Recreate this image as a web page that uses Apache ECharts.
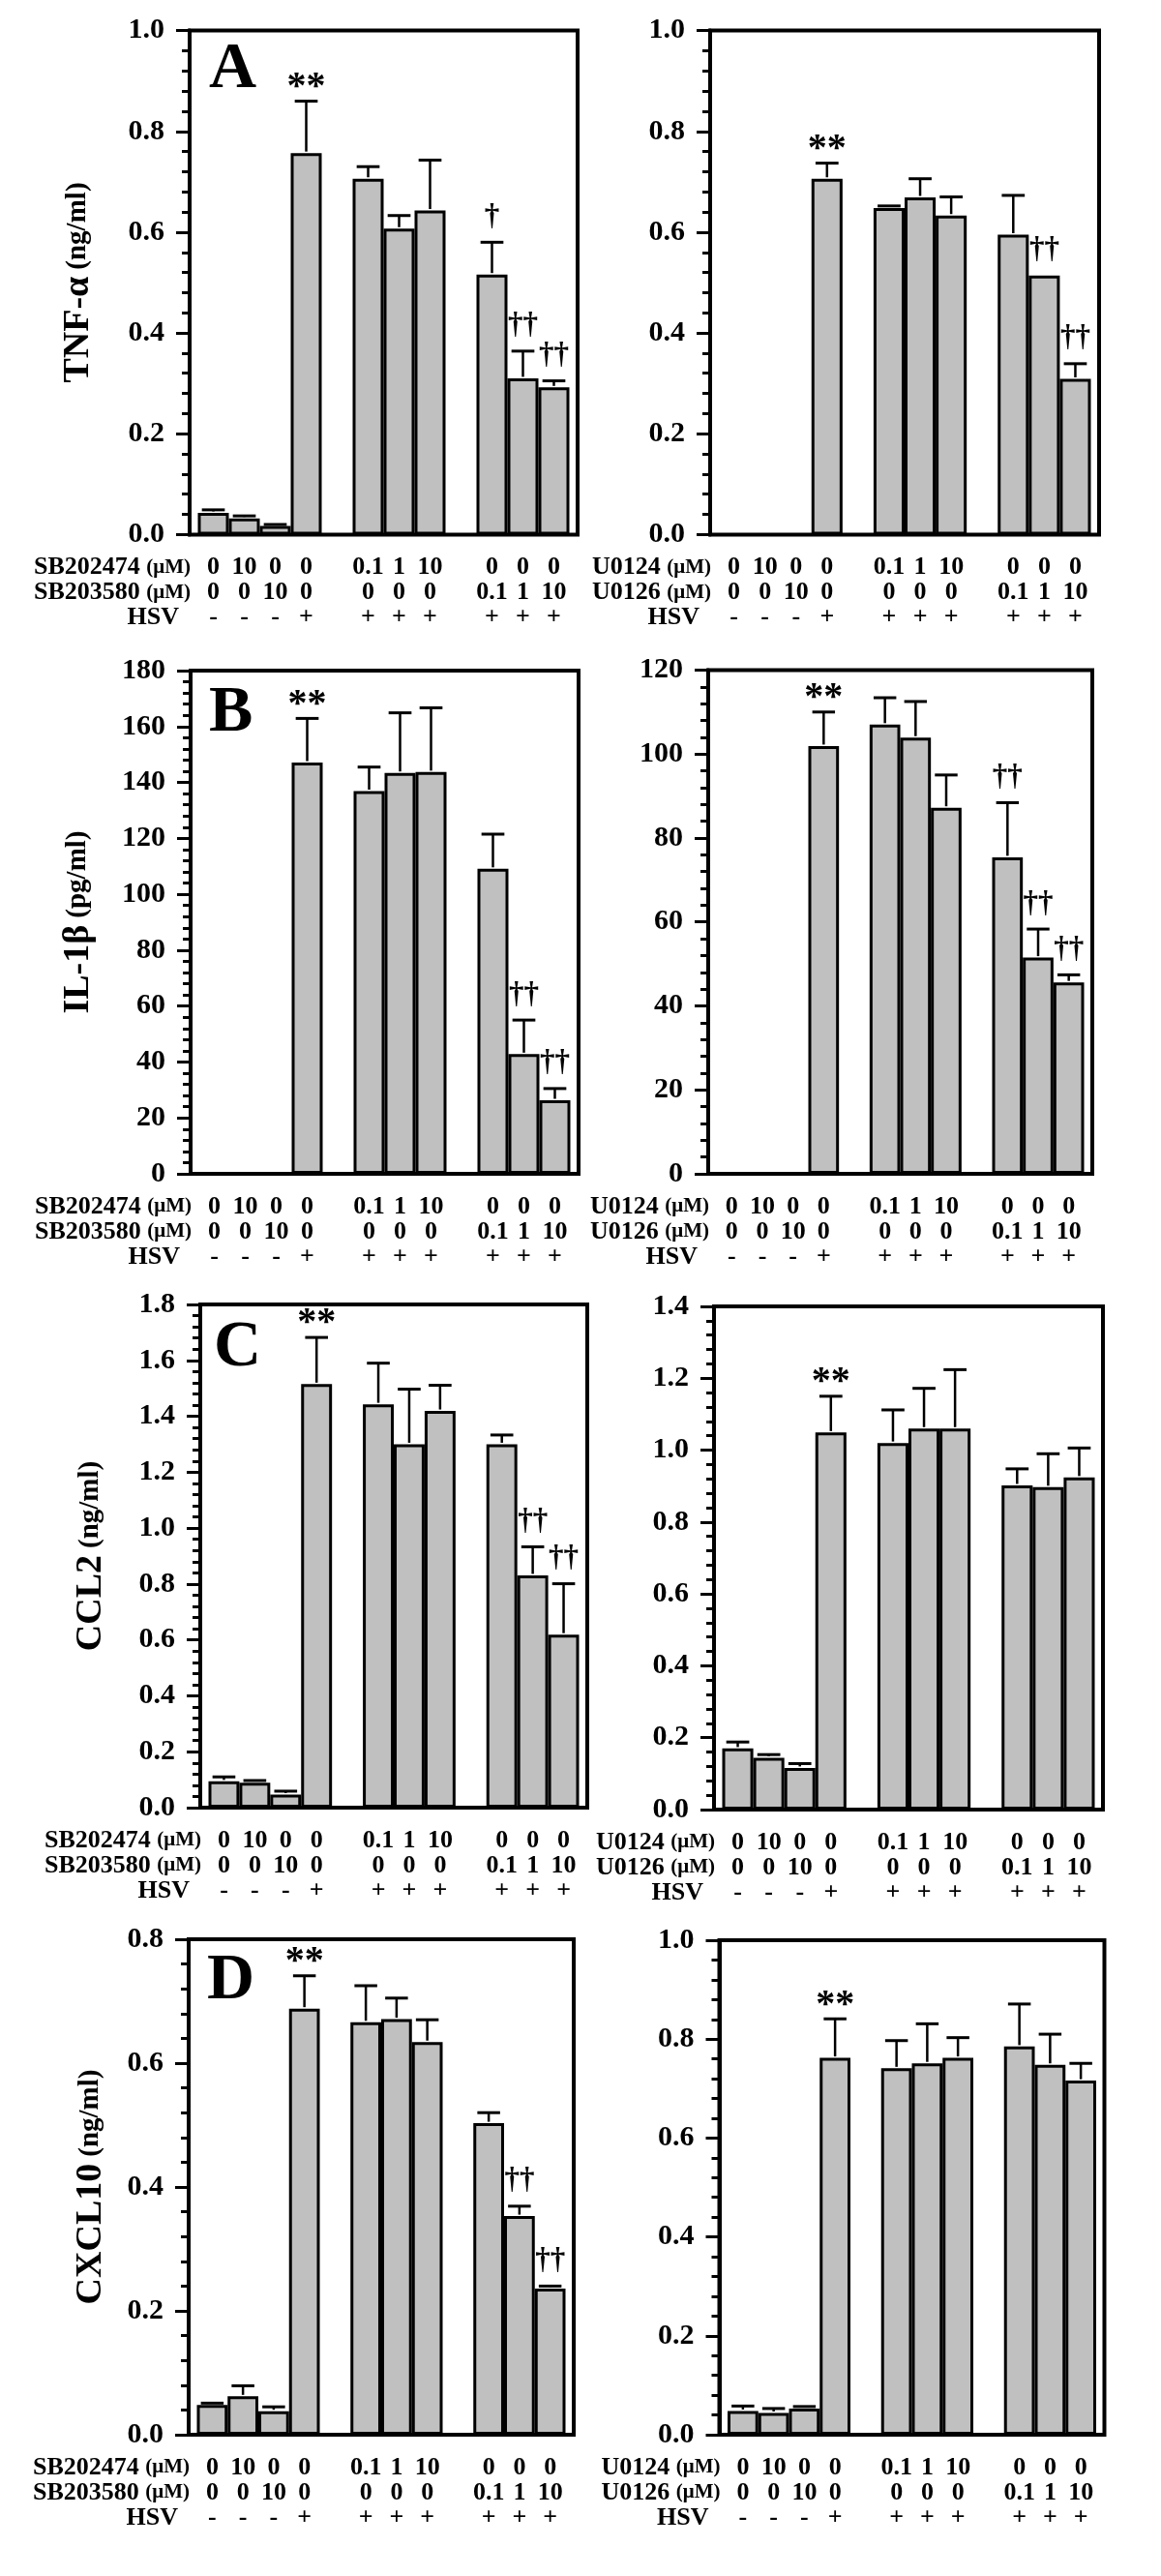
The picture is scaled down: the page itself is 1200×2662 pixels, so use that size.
<!DOCTYPE html>
<html><head><meta charset="utf-8">
<script src="https://cdn.jsdelivr.net/npm/echarts@6/dist/echarts.min.js"></script>
<style>html,body{margin:0;padding:0;background:#fff}#c{width:1200px;height:2662px}</style>
</head><body><div id="c"></div>
<script>
// ---------- categories / table rows ----------
const slots = ['s1','s2','s3','s4','g1','s5','s6','s7','g2','s8','s9','s10'];
const barSlots = [0,1,2,3,5,6,7,9,10,11];
const rowSB202474 = ['0','10','0','0','','0.1','1','10','','0','0','0'];
const rowSB203580 = ['0','0','10','0','','0','0','0','','0.1','1','10'];
const rowU0124    = ['0','10','0','0','','0.1','1','10','','0','0','0'];
const rowU0126    = ['0','0','10','0','','0','0','0','','0.1','1','10'];
const rowHSV      = ['-','-','-','+','','+','+','+','','+','+','+'];

// ---------- tick labels ----------
const ticks10 = ['0.0','0.2','0.4','0.6','0.8','1.0'];
const ticks180 = ['0','20','40','60','80','100','120','140','160','180'];
const ticks120 = ['0','20','40','60','80','100','120'];
const ticks18 = ['0.0','0.2','0.4','0.6','0.8','1.0','1.2','1.4','1.6','1.8'];
const ticks14 = ['0.0','0.2','0.4','0.6','0.8','1.0','1.2','1.4'];
const ticks08 = ['0.0','0.2','0.4','0.6','0.8'];

// ---------- values (mean, SD, significance) ----------
const tnfSB     = [0.043,0.032,0.017,0.757,0.706,0.607,0.643,0.516,0.310,0.292];
const tnfSBsd   = [0.006,0.005,0.003,0.103,0.024,0.026,0.100,0.064,0.054,0.013];
const tnfSBsig  = ['','','','**','','','','\u2020','\u2020\u2020','\u2020\u2020'];
const tnfU      = [null,null,null,0.706,0.648,0.669,0.633,0.595,0.514,0.309];
const tnfUsd    = [null,null,null,0.031,0.004,0.037,0.037,0.078,0,0.030];
const tnfUsig   = ['','','','**','','','','','\u2020\u2020','\u2020\u2020'];

const il1SB     = [null,null,null,147.1,136.9,143.4,143.7,109.1,42.8,26.3];
const il1SBsd   = [null,null,null,15.8,8.6,21.5,23.0,12.4,12.2,4.2];
const il1SBsig  = ['','','','**','','','','','\u2020\u2020','\u2020\u2020'];
const il1U      = [null,null,null,101.9,107.0,103.9,87.2,75.4,51.5,45.6];
const il1Usd    = [null,null,null,8.1,6.4,8.6,7.8,13.0,6.8,1.8];
const il1Usig   = ['','','','**','','','','\u2020\u2020','\u2020\u2020','\u2020\u2020'];

const ccl2SB    = [0.094,0.089,0.047,1.515,1.443,1.300,1.419,1.300,0.831,0.619];
const ccl2SBsd  = [0.016,0.008,0.012,0.167,0.147,0.197,0.092,0.033,0.102,0.182];
const ccl2SBsig = ['','','','**','','','','','\u2020\u2020','\u2020\u2020'];
const ccl2U     = [0.170,0.144,0.116,1.049,1.020,1.060,1.060,0.902,0.897,0.924];
const ccl2Usd   = [0.018,0.009,0.012,0.101,0.092,0.112,0.164,0.046,0.093,0.082];
const ccl2Usig  = ['','','','**','','','','','',''];

const cxSB      = [0.048,0.062,0.038,0.688,0.666,0.671,0.634,0.503,0.353,0.236];
const cxSBsd    = [0.003,0.017,0.007,0.053,0.059,0.034,0.036,0.017,0.016,0.004];
const cxSBsig   = ['','','','**','','','','','\u2020\u2020','\u2020\u2020'];
const cxU       = [0.048,0.044,0.053,0.762,0.741,0.751,0.762,0.785,0.748,0.716];
const cxUsd     = [0.010,0.009,0.004,0.079,0.056,0.080,0.041,0.086,0.062,0.035];
const cxUsig    = ['','','','**','','','','','',''];

// ---------- layout ----------
const FONT = '"Liberation Serif","Times New Roman",serif';
const M = 8.5;
const rowOffsets = [34, 60, 86];
const panels = [
  {box:[196,31.6,597,552.4], ticks:ticks10, mean:tnfSB, sd:tnfSBsd, sig:tnfSBsig, rows:[['SB202474',rowSB202474],['SB203580',rowSB203580],['HSV',rowHSV]], letter:'A', lx:20, ly:19, title:['TNF-\u03b1','(ng/ml)'], tgap:104},
  {box:[734,31.6,1136,552.4], ticks:ticks10, mean:tnfU, sd:tnfUsd, sig:tnfUsig, rows:[['U0124',rowU0124],['U0126',rowU0126],['HSV',rowHSV]]},
  {box:[197,693,598,1213], ticks:ticks180, mean:il1SB, sd:il1SBsd, sig:il1SBsig, rows:[['SB202474',rowSB202474],['SB203580',rowSB203580],['HSV',rowHSV]], letter:'B', lx:19, ly:22, title:['IL-1\u03b2','(pg/ml)'], tgap:105},
  {box:[732,692.4,1129,1213], ticks:ticks120, mean:il1U, sd:il1Usd, sig:il1Usig, rows:[['U0124',rowU0124],['U0126',rowU0126],['HSV',rowHSV]]},
  {box:[207,1348,607,1868], ticks:ticks18, mean:ccl2SB, sd:ccl2SBsd, sig:ccl2SBsig, rows:[['SB202474',rowSB202474],['SB203580',rowSB203580],['HSV',rowHSV]], letter:'C', lx:14, ly:23, title:['CCL2','(ng/ml)'], tgap:102},
  {box:[738,1350,1140,1870], ticks:ticks14, mean:ccl2U, sd:ccl2Usd, sig:ccl2Usig, rows:[['U0124',rowU0124],['U0126',rowU0126],['HSV',rowHSV]]},
  {box:[195,2004,593,2516], ticks:ticks08, mean:cxSB, sd:cxSBsd, sig:cxSBsig, rows:[['SB202474',rowSB202474],['SB203580',rowSB203580],['HSV',rowHSV]], letter:'D', lx:19, ly:21, title:['CXCL10','(ng/ml)'], tgap:90},
  {box:[743.5,2005,1141.5,2516], ticks:ticks10, mean:cxU, sd:cxUsd, sig:cxUsig, rows:[['U0124',rowU0124],['U0126',rowU0126],['HSV',rowHSV]]}
];

const grids=[], xAxes=[], yAxes=[], series=[], titles=[];
panels.forEach(p => {
  const [L,T,R,B] = p.box;
  const tk = p.ticks.map(Number);
  const yMin = tk[0], yMax = tk[tk.length-1], yInt = tk[1]-tk[0];
  const labelMap = {};
  p.ticks.forEach(t => { labelMap[Number(t).toFixed(4)] = t; });

  const outer = grids.length;
  grids.push({left:L, top:T, width:R-L, height:B-T, show:true, borderColor:'#000', borderWidth:4, backgroundColor:'rgba(0,0,0,0)'});
  const inner = grids.length;
  grids.push({left:L+M, top:T, width:R-L-2*M, height:B-T});

  xAxes.push({gridIndex:outer, type:'value', show:false, min:0, max:1});
  const yOuter = {
    gridIndex:outer, type:'value', min:yMin, max:yMax, interval:yInt,
    axisLine:{show:true, onZero:false, lineStyle:{color:'#000', width:4}},
    axisTick:{show:true, inside:false, length:14, lineStyle:{color:'#000', width:3}},
    minorTick:{show:true, splitNumber:5, length:8, lineStyle:{color:'#000', width:3}},
    splitLine:{show:false}, minorSplitLine:{show:false},
    axisLabel:{margin:26, color:'#000', fontFamily:FONT, fontWeight:'bold', fontSize:30,
      formatter: v => labelMap[Number(v).toFixed(4)] ?? ''}
  };
  if (p.title) {
    Object.assign(yOuter, {
      name:'{a|'+p.title[0]+'} {b|'+p.title[1]+'}', nameLocation:'middle', nameGap:p.tgap-8,
      nameTextStyle:{color:'#000', fontFamily:FONT, fontWeight:'bold', fontSize:28,
        rich:{a:{fontSize:38, fontWeight:'bold', fontFamily:FONT, color:'#000'},
              b:{fontSize:29, fontWeight:'bold', fontFamily:FONT, color:'#000'}}}
    });
  }
  yAxes.push(yOuter);

  const rowStart = xAxes.length;
  p.rows.forEach((row, k) => {
    const vals = row[1];
    xAxes.push({
      gridIndex:inner, type:'category', data:slots, position:'bottom', offset:rowOffsets[k],
      axisLine:{show:false, onZero:false}, axisTick:{show:false}, splitLine:{show:false},
      axisLabel:{interval:0, margin:0, verticalAlign:'middle', color:'#000', fontFamily:FONT, fontWeight:'bold', fontSize:26,
        formatter:(v, i) => vals[i]},
      name: row[0]==='HSV' ? 'HSV' : row[0]+' {u|(\u03bcM)}',
      nameLocation:'start', nameGap: row[0]==='HSV' ? M+11 : M-1,
      nameTextStyle:{color:'#000', fontFamily:FONT, fontWeight:'bold', fontSize:26, align:'right', verticalAlign:'middle',
        rich:{u:{fontSize:21, fontWeight:'bold', fontFamily:FONT, color:'#000'}}}
    });
  });
  const yInner = yAxes.length;
  yAxes.push({gridIndex:inner, type:'value', min:yMin, max:yMax, show:false});

  const barData = slots.map(() => '-');
  const errData = [];
  p.mean.forEach((m, i) => {
    barData[barSlots[i]] = (m == null) ? '-' : m;
    errData.push([barSlots[i], m == null ? '-' : m, p.sd[i] == null ? '-' : p.sd[i]]);
  });
  series.push({type:'bar', xAxisIndex:rowStart, yAxisIndex:yInner, data:barData,
    barCategoryGap:'0%', itemStyle:{color:'#c0c0c0', borderColor:'#000', borderWidth:3}, silent:true, z:2});
  const sig = p.sig;
  series.push({type:'custom', xAxisIndex:rowStart, yAxisIndex:yInner, data:errData, z:3, silent:true,
    encode:{x:0, y:1},
    renderItem:(params, api) => {
      const x = api.value(0), m = api.value(1), e = api.value(2);
      if (isNaN(m)) return null;
      const base = api.coord([x, m]);
      const top = api.coord([x, m + (isNaN(e) ? 0 : e)]);
      const half = api.size([1, 0])[0] * 0.37;
      const ch = [];
      if (e > 0) {
        ch.push({type:'line', shape:{x1:base[0], y1:base[1]-1.5, x2:top[0], y2:top[1]}, style:{stroke:'#000', lineWidth:2.5}});
        ch.push({type:'line', shape:{x1:top[0]-half, y1:top[1], x2:top[0]+half, y2:top[1]}, style:{stroke:'#000', lineWidth:3}});
      }
      const s = sig[params.dataIndex];
      if (s) {
        const star = s === '**';
        ch.push({type:'text', style:{text:s, x:top[0], y:top[1] + (star ? 6 : -11),
          textAlign:'center', textVerticalAlign:'bottom', font:'bold ' + (star ? 40 : 31) + 'px ' + FONT, fill:'#000'}});
      }
      return {type:'group', children:ch};
    }
  });

  if (p.letter) {
    titles.push({text:p.letter, left:L+p.lx, top:T+p.ly-12, padding:0,
      textStyle:{fontSize:68, fontWeight:'bold', fontFamily:FONT, color:'#000'}});
  }
});

const chart = echarts.init(document.getElementById('c'), null, {renderer:'canvas'});
chart.setOption({
  backgroundColor:'#fff', animation:false,
  title:titles, grid:grids, xAxis:xAxes, yAxis:yAxes, series:series
});
</script></body></html>
